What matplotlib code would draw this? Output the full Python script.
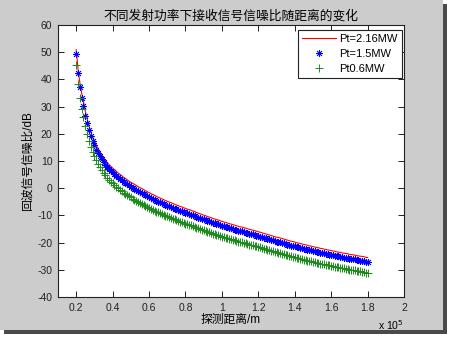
import numpy as np
import matplotlib
matplotlib.use('Agg')
import matplotlib.pyplot as plt
from matplotlib.patches import Rectangle

plt.rcParams['font.family'] = ['Liberation Sans', 'Noto Sans CJK SC']
plt.rcParams['axes.unicode_minus'] = False

# detection range, m (one sample every 1 km)
distance = np.arange(20000, 180001, 1000)

# echo SNR in dB
snr_216 = [50.9, 43.8, 38.8, 34.9, 31.8, 28.3, 25.5, 22.9, 20.7, 18.8,
           17.3, 15.8, 14.6, 13.4, 12.3, 11.3, 10.3, 9.5, 8.7, 8.0,
           7.4, 6.8, 6.2, 5.6, 5.1, 4.6, 4.0, 3.6, 3.1, 2.6,
           2.2, 1.8, 1.4, 1.0, 0.6, 0.2, -0.1, -0.5, -0.9, -1.3,
           -1.6, -2.0, -2.3, -2.6, -3.0, -3.3, -3.6, -3.9, -4.2, -4.5,
           -4.8, -5.1, -5.3, -5.6, -5.9, -6.2, -6.4, -6.7, -6.9, -7.2,
           -7.4, -7.7, -7.9, -8.1, -8.4, -8.6, -8.9, -9.2, -9.4, -9.7,
           -9.9, -10.1, -10.4, -10.6, -10.8, -11.1, -11.3, -11.5, -11.7, -11.9,
           -12.2, -12.4, -12.6, -12.8, -13.0, -13.2, -13.4, -13.6, -13.8, -14.0,
           -14.2, -14.3, -14.5, -14.7, -14.9, -15.1, -15.3, -15.4, -15.6, -15.8,
           -16.0, -16.2, -16.4, -16.6, -16.8, -17.0, -17.2, -17.4, -17.6, -17.8,
           -18.0, -18.1, -18.3, -18.5, -18.7, -18.9, -19.1, -19.3, -19.5, -19.6,
           -19.8, -20.0, -20.2, -20.3, -20.5, -20.7, -20.8, -21.0, -21.2, -21.3,
           -21.5, -21.6, -21.8, -21.9, -22.1, -22.2, -22.4, -22.5, -22.7, -22.8,
           -22.9, -23.1, -23.2, -23.4, -23.5, -23.6, -23.8, -23.9, -24.0, -24.1,
           -24.3, -24.4, -24.5, -24.6, -24.8, -24.9, -25.0, -25.1, -25.2, -25.4,
           -25.5]
snr_15 = [49.3, 42.2, 37.2, 33.3, 30.2, 26.7, 23.9, 21.3, 19.1, 17.2,
          15.7, 14.2, 13.0, 11.8, 10.7, 9.7, 8.7, 7.9, 7.1, 6.4,
          5.8, 5.2, 4.6, 4.0, 3.5, 3.0, 2.4, 2.0, 1.5, 1.0,
          0.6, 0.2, -0.2, -0.6, -1.0, -1.4, -1.7, -2.1, -2.5, -2.9,
          -3.2, -3.6, -3.9, -4.2, -4.6, -4.9, -5.2, -5.5, -5.8, -6.1,
          -6.4, -6.7, -6.9, -7.2, -7.5, -7.8, -8.0, -8.3, -8.5, -8.8,
          -9.0, -9.3, -9.5, -9.7, -10.0, -10.2, -10.5, -10.8, -11.0, -11.3,
          -11.5, -11.7, -12.0, -12.2, -12.4, -12.7, -12.9, -13.1, -13.3, -13.5,
          -13.8, -14.0, -14.2, -14.4, -14.6, -14.8, -15.0, -15.2, -15.4, -15.6,
          -15.8, -15.9, -16.1, -16.3, -16.5, -16.7, -16.9, -17.0, -17.2, -17.4,
          -17.6, -17.8, -18.0, -18.2, -18.4, -18.6, -18.8, -19.0, -19.2, -19.4,
          -19.6, -19.7, -19.9, -20.1, -20.3, -20.5, -20.7, -20.9, -21.1, -21.2,
          -21.4, -21.6, -21.8, -21.9, -22.1, -22.3, -22.4, -22.6, -22.8, -22.9,
          -23.1, -23.2, -23.4, -23.5, -23.7, -23.8, -24.0, -24.1, -24.3, -24.4,
          -24.5, -24.7, -24.8, -25.0, -25.1, -25.2, -25.4, -25.5, -25.6, -25.7,
          -25.9, -26.0, -26.1, -26.2, -26.4, -26.5, -26.6, -26.7, -26.8, -27.0,
          -27.1]
snr_06 = [45.3, 38.2, 33.2, 29.3, 26.2, 22.7, 19.9, 17.3, 15.1, 13.2,
          11.7, 10.2, 9.0, 7.8, 6.7, 5.7, 4.7, 3.9, 3.1, 2.4,
          1.8, 1.2, 0.6, 0.0, -0.5, -1.0, -1.6, -2.0, -2.5, -3.0,
          -3.4, -3.8, -4.2, -4.6, -5.0, -5.4, -5.7, -6.1, -6.5, -6.9,
          -7.2, -7.6, -7.9, -8.2, -8.6, -8.9, -9.2, -9.5, -9.8, -10.1,
          -10.4, -10.7, -10.9, -11.2, -11.5, -11.8, -12.0, -12.3, -12.5, -12.8,
          -13.0, -13.3, -13.5, -13.7, -14.0, -14.2, -14.5, -14.8, -15.0, -15.3,
          -15.5, -15.7, -16.0, -16.2, -16.4, -16.7, -16.9, -17.1, -17.3, -17.5,
          -17.8, -18.0, -18.2, -18.4, -18.6, -18.8, -19.0, -19.2, -19.4, -19.6,
          -19.8, -19.9, -20.1, -20.3, -20.5, -20.7, -20.9, -21.0, -21.2, -21.4,
          -21.6, -21.8, -22.0, -22.2, -22.4, -22.6, -22.8, -23.0, -23.2, -23.4,
          -23.6, -23.7, -23.9, -24.1, -24.3, -24.5, -24.7, -24.9, -25.1, -25.2,
          -25.4, -25.6, -25.8, -25.9, -26.1, -26.3, -26.4, -26.6, -26.8, -26.9,
          -27.1, -27.2, -27.4, -27.5, -27.7, -27.8, -28.0, -28.1, -28.3, -28.4,
          -28.5, -28.7, -28.8, -29.0, -29.1, -29.2, -29.4, -29.5, -29.6, -29.7,
          -29.9, -30.0, -30.1, -30.2, -30.4, -30.5, -30.6, -30.7, -30.8, -31.0,
          -31.1]

series_labels = ['Pt=2.16MW', 'Pt=1.5MW', 'Pt0.6MW']
xtick_vals = [20000, 40000, 60000, 80000, 100000, 120000, 140000, 160000, 180000, 200000]
xtick_labels = ['0.2', '0.4', '0.6', '0.8', '1', '1.2', '1.4', '1.6', '1.8', '2']
ytick_vals = [-40, -30, -20, -10, 0, 10, 20, 30, 40, 50, 60]

W, H = 450, 338
fig = plt.figure(figsize=(W / 100, H / 100), dpi=100, facecolor='white')

# screenshot-style window with a drop shadow
fig.patches.append(Rectangle((4 / W, (H - 334) / H), 443 / W, 330 / H,
                             transform=fig.transFigure, facecolor='#4a4a4a',
                             edgecolor='none', zorder=-3))
fig.patches.append(Rectangle((0, (H - 330) / H), 443 / W, 330 / H,
                             transform=fig.transFigure, facecolor='#cccccc',
                             edgecolor='none', zorder=-2))

ax = fig.add_axes([58 / W, (H - 297) / H, 346 / W, 272 / H])
ax.set_facecolor('white')

ax.plot(distance, snr_216, '-', color='red', lw=0.8, label=series_labels[0])
ax.plot(distance, snr_15, ls='none', marker=(8, 2, 0), ms=5, mew=0.6,
        color='blue', label=series_labels[1])
ax.plot(distance, snr_06, ls='none', marker='+', ms=6, mew=0.7,
        color=(0.1, 0.55, 0.1), label=series_labels[2])

ax.set_xlim(10000, 200000)
ax.set_ylim(-40, 60)
ax.set_xticks(xtick_vals)
ax.set_xticklabels(xtick_labels)
ax.set_yticks(ytick_vals)
ax.tick_params(direction='in', length=4, width=0.7, labelsize=7.5,
               top=True, right=True, pad=4, colors='#222222')
for sp in ax.spines.values():
    sp.set_linewidth(0.8)
    sp.set_color('#222222')

ax.set_title('不同发射功率下接收信号信噪比随距离的变化', fontsize=9.2, pad=4)
ax.set_xlabel('探测距离/m', fontsize=8.5, labelpad=1)
ax.set_ylabel('回波信号信噪比/dB', fontsize=8.5)
ax.yaxis.set_label_coords(-0.07, 0.5)
ax.text(1.0, -0.078, r'x 10$^5$', transform=ax.transAxes, ha='right',
        va='top', fontsize=7.5)

leg = ax.legend(loc='upper right', bbox_to_anchor=(0.994, 0.982),
                borderaxespad=0, fancybox=False, framealpha=1,
                edgecolor='#222222', fontsize=8, handlelength=3.0,
                handletextpad=0.3, labelspacing=0.42, borderpad=0.4)
leg.get_frame().set_linewidth(0.8)

fig.savefig('out.png', dpi=100, facecolor=fig.get_facecolor())
